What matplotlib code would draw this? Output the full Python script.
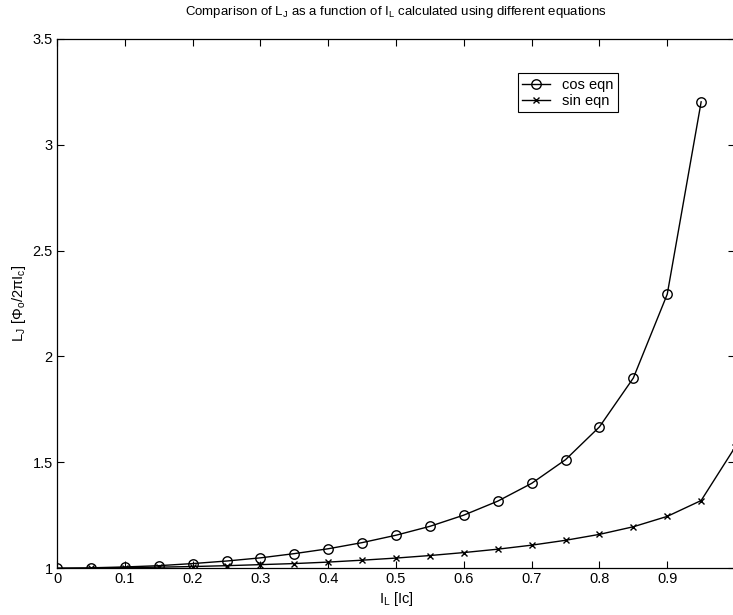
import numpy as np
import matplotlib.pyplot as plt

plt.rcParams['font.family'] = ['Liberation Sans', 'DejaVu Sans']
plt.rcParams['mathtext.default'] = 'regular'

# normalised junction current I_L / Ic
i_cos = [0.0, 0.05, 0.10, 0.15, 0.20, 0.25, 0.30, 0.35, 0.40, 0.45,
         0.50, 0.55, 0.60, 0.65, 0.70, 0.75, 0.80, 0.85, 0.90, 0.95]
L_cos = [1.000, 1.001, 1.005, 1.011, 1.021, 1.033, 1.048, 1.068, 1.091, 1.120,
         1.155, 1.197, 1.250, 1.316, 1.400, 1.512, 1.667, 1.898, 2.294, 3.203]

i_sin = [0.05, 0.10, 0.15, 0.20, 0.25, 0.30, 0.35, 0.40, 0.45, 0.50,
         0.55, 0.60, 0.65, 0.70, 0.75, 0.80, 0.85, 0.90, 0.95, 1.00]
L_sin = [1.000, 1.002, 1.004, 1.007, 1.011, 1.016, 1.021, 1.028, 1.037, 1.047,
         1.059, 1.073, 1.089, 1.108, 1.131, 1.159, 1.195, 1.244, 1.319, 1.571]

x_ticks = [0, 0.1, 0.2, 0.3, 0.4, 0.5, 0.6, 0.7, 0.8, 0.9, 1.0]
x_ticklabels = ['0', '0.1', '0.2', '0.3', '0.4', '0.5', '0.6', '0.7', '0.8', '0.9', '']
y_ticks = [1, 1.5, 2, 2.5, 3, 3.5]
y_ticklabels = ['1', '1.5', '2', '2.5', '3', '3.5']

fig = plt.figure(figsize=(7.33, 6.15), dpi=100)
ax = fig.add_axes([0.0778, 0.0764, 0.925, 0.8602])

ax.plot(i_cos, L_cos, '-o', color='black', lw=1.0, ms=6.8,
        mfc='none', mew=1.0, label='cos eqn')
ax.plot(i_sin, L_sin, '-x', color='black', lw=1.0, ms=5,
        mew=1.0, label='sin eqn')

ax.set_xlim(0, 1)
ax.set_ylim(1, 3.5)
ax.set_xticks(x_ticks)
ax.set_xticklabels(x_ticklabels)
ax.set_yticks(y_ticks)
ax.set_yticklabels(y_ticklabels)
ax.tick_params(direction='in', top=True, right=True, length=5,
               width=0.8, labelsize=10.5, pad=3)
for s in ax.spines.values():
    s.set_linewidth(0.9)

ax.set_xlabel('$I_L$ [Ic]', fontsize=10.5, labelpad=3)
ax.set_ylabel(r'$L_J\ [\Phi_o/2\pi I_c]$', fontsize=10.5, labelpad=3)
ax.set_title('Comparison of $L_J$ as a function of $I_L$ calculated using '
             'different equations', fontsize=9.5, pad=17)

leg = ax.legend(loc='upper left', bbox_to_anchor=(0.68, 0.935),
                fontsize=10.5, frameon=True, fancybox=False, framealpha=1,
                edgecolor='black', handlelength=1.9, handletextpad=0.8,
                borderpad=0.3, labelspacing=0.15, borderaxespad=0)
leg.get_frame().set_linewidth(0.8)

fig.savefig('out.png', dpi=100)
